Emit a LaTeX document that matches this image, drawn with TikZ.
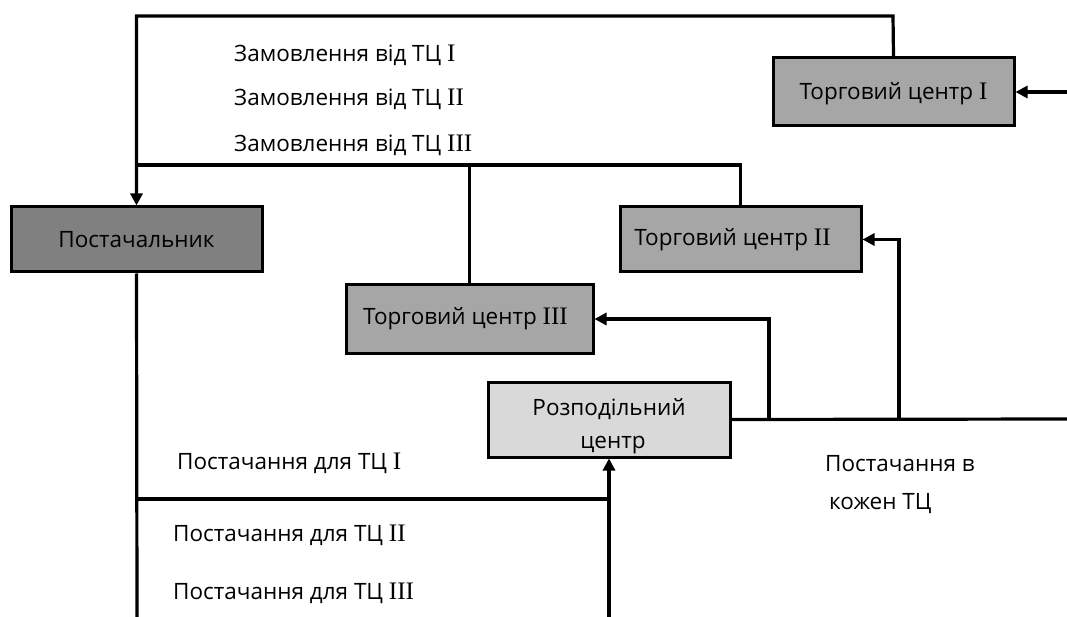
\documentclass[tikz,border=0pt]{standalone}
\usepackage{fontspec}
\setmainfont{Open Sans}
\newfontfamily\numfont[Scale=1.12]{Liberation Serif}
\usetikzlibrary{arrows.meta}
\newcommand\rn[1]{{\numfont #1}}
% lower the contents without changing the size used for centring
\newcommand\lowerby[2]{\raisebox{-#1}[\height][\depth]{#2}}
\tikzset{
  box/.style={draw=black, line width=3pt, minimum width=242pt, minimum height=66pt,
    inner sep=0pt, font=\fontsize{22.5}{33}\selectfont, align=center},
  dark/.style={box, fill={rgb,255:red,128;green,128;blue,128}},
  mid/.style={box, fill={rgb,255:red,166;green,166;blue,166}},
  light/.style={box, fill={rgb,255:red,217;green,217;blue,217}},
  wire/.style={line width=3.2pt},
  arr/.style={wire, -{Triangle[length=12pt,width=12pt]}},
  lbl/.style={anchor=base west, inner sep=0pt, font=\fontsize{22.5}{27}\selectfont},
}
\begin{document}
\begin{tikzpicture}[x=1pt,y=-1pt]
\useasboundingbox[fill=white] (0,0) rectangle (1067,617);

% blocks
\node[dark, minimum width=251pt, minimum height=65pt] (sup) at (136.5,239.5) {Постачальник};
\node[mid, minimum width=241pt, minimum height=68pt] (tc1) at (893.5,92) {\lowerby{2pt}{Торговий центр \rn{I}}};
\node[mid, minimum width=241pt, minimum height=65pt] (tc2) at (740.5,239.5) {Торговий центр \rn{II}\hspace*{16pt}};
\node[mid, minimum width=247pt, minimum height=68pt] (tc3) at (469.5,319) {Торговий центр \rn{III}\hspace*{8pt}};
\node[light, minimum width=242pt, minimum height=75pt] (dc) at (609,419.5)
  {\lowerby{6pt}{\begin{tabular}{@{}c@{}}Розподільний\\ \hspace*{8pt}центр\end{tabular}}};

% junction points of the order and delivery lines
\coordinate (top) at (893,16);
\coordinate (ord) at (137,165);
\coordinate (inR) at (1067,92);
\coordinate (outR) at (1067,419);
\coordinate (s3) at (769,419);
\coordinate (s2) at (899,419);
\coordinate (bl) at (137,617);
\coordinate (bm) at (609,617);
\coordinate (sp) at (137,499);

% orders from the shopping centres to the supplier
\draw[arr] (tc1.north) -- (top) -| (sup.north);
\draw[wire] (ord) -| (tc2.north);
\draw[wire] (tc3.north) -- (tc3.north |- ord);
\draw[arr] (inR) -- (tc1.east);

% deliveries
\draw[wire] (sup.south) -- (bl);
\draw[wire] (sp) -- (sp -| bm);
\draw[arr] (bm) -- (dc.south);
\draw[wire] (dc.east) -- (outR);
\draw[arr] (s3) |- (tc3.east);
\draw[arr] (s2) |- (tc2.east);

% labels
\node[lbl] (o1) at (234,62) {Замовлення від ТЦ \rn{I}};
\node[lbl] (o2) at (234,106) {Замовлення від ТЦ \rn{II}};
\node[lbl] (o3) at (234,152) {Замовлення від ТЦ \rn{III}};
\node[lbl] (d1) at (177,469) {Постачання для ТЦ \rn{I}};
\node[lbl] (d2) at (173,541) {Постачання для ТЦ \rn{II}};
\node[lbl] (d3) at (173,599) {Постачання для ТЦ \rn{III}};
\node[lbl] (e1) at (825,471) {Постачання в};
\node[lbl] (e2) at (829,509) {кожен ТЦ};
\end{tikzpicture}
\end{document}
